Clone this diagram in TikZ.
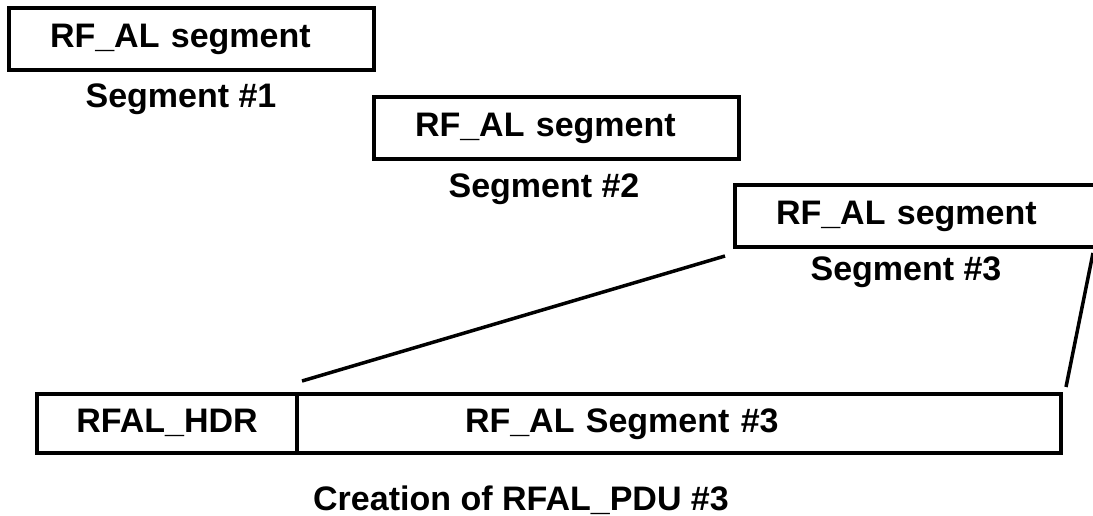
\documentclass[tikz,border=0pt]{standalone}
\usepackage{fontspec}                 % polices systeme
\setmainfont{Liberation Sans}
\usepackage{tikz}
\usetikzlibrary{positioning,          % placement relatif
           calc}                      % calculs de coordonnees

\begin{document}
\begin{tikzpicture}[x=1pt,y=-1pt,
    every node/.style={font=\bfseries\fontsize{34}{40}\selectfont},
    segbox/.style={draw,line width=4pt,inner xsep=41pt,inner ysep=0pt,text width=283pt,align=left,
                   minimum height=62pt,text height=25pt,text depth=8pt},
    pdubox/.style={draw,line width=4pt,outer sep=0pt,inner ysep=0pt,minimum height=59pt,text height=25pt,text depth=8pt},
    lbl/.style={anchor=base},
    lien/.style={line width=3.5pt}]
\useasboundingbox (0,0) rectangle (1093,516);
\foreach \k/\x/\y in {1/191.5/39.5, 2/556.5/128, 3/917.5/216}
    \node[segbox] (seg\k) at (\x,\y) {RF\_AL segment};
\foreach \k/\x/\y in {1/181/108, 2/544/197, 3/906/280}
    \node[lbl] (nom\k) at (\x,\y) {Segment \#\k};
\node[pdubox,minimum width=260pt] (hdr) at (167,423.5) {RFAL\_HDR};
\node[pdubox,anchor=west,inner xsep=168pt,text width=428pt,align=left] (payload) at (hdr.east) {RF\_AL Segment \#3};
\node[lbl] (titre) at (521,510) {Creation of RFAL\_PDU \#3};
\coordinate (a1) at (725,256);
\coordinate (b1) at (302,381);
\coordinate (a2) at (1093,253);
\coordinate (b2) at (1066,387);
\draw[lien] (a1)--(b1);
\draw[lien] (a2)--(b2);
\end{tikzpicture}
\end{document}
